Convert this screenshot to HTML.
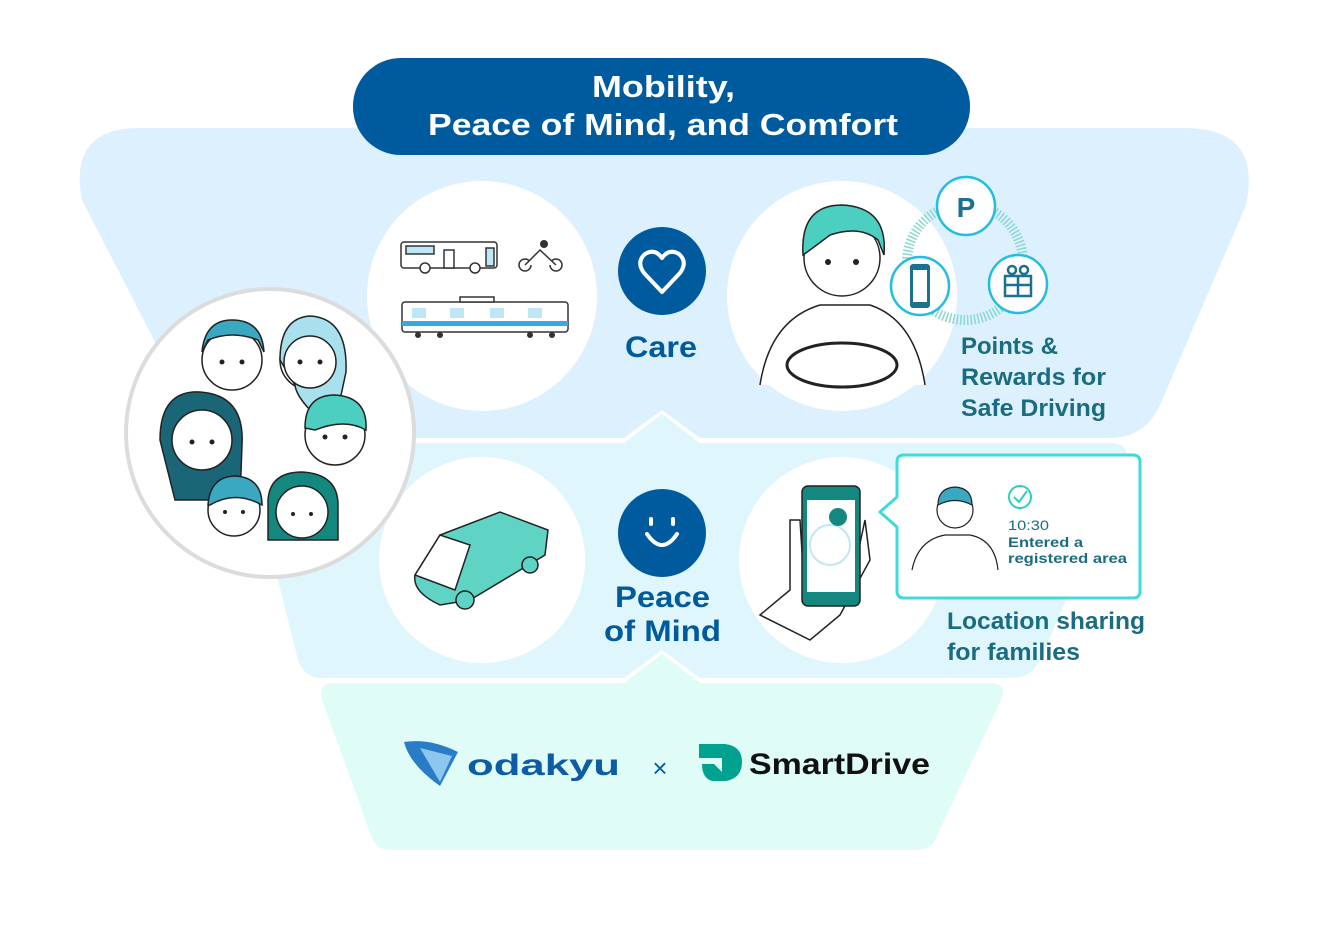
<!DOCTYPE html>
<html><head><meta charset="utf-8"><style>
body{margin:0;background:#fff;width:1326px;height:952px;overflow:hidden}
svg{display:block}
text{font-family:"Liberation Sans",sans-serif}
</style></head><body>
<svg width="1326" height="952" viewBox="0 0 1326 952">
<path d="M140,128 L1185,128 Q1262,128 1246,205 L1160,405 Q1145,438 1110,438 L700,438 L662,410 L624,438 L230,438 Q200,438 190,410 L82,200 Q68,128 140,128 Z" fill="#dcf0fd"/>
<path d="M260,443 L624,443 L662,414 L700,443 L1110,443 Q1132,443 1125,465 L1040,660 Q1032,678 1010,678 L700,678 L662,650 L624,678 L320,678 Q305,678 298,660 L248,460 Q244,443 260,443 Z" fill="#dff6fd"/>
<path d="M335,683 L624,683 L662,654 L700,683 L990,683 Q1008,683 1001,700 L935,840 Q930,850 915,850 L390,850 Q377,850 372,838 L322,700 Q317,683 335,683 Z" fill="#dffcf6"/>
<rect x="353" y="58" width="617" height="97" rx="48" fill="#005a9e"/>
<text x="592" y="97" font-size="31" fill="#fff" font-weight="bold" textLength="143" lengthAdjust="spacingAndGlyphs">Mobility,</text>
<text x="428" y="135" font-size="31" fill="#fff" font-weight="bold" textLength="470" lengthAdjust="spacingAndGlyphs">Peace of Mind, and Comfort</text>
<circle cx="482" cy="296" r="115" fill="#fff"/>
<circle cx="842" cy="296" r="115" fill="#fff"/>
<circle cx="482" cy="560" r="103" fill="#fff"/>
<circle cx="842" cy="560" r="103" fill="#fff"/>
<circle cx="270" cy="433" r="144" fill="#fff" stroke="#dcdcdc" stroke-width="4"/>
<g stroke="#222" stroke-width="1.5">
<circle cx="232" cy="360" r="30" fill="#fff"/><path d="M202,352 Q205,320 232,320 Q262,320 264,352 L258,340 Q232,330 208,340 Z" fill="#3aa8c0"/>
<circle cx="310" cy="360" r="30" fill="#fff"/><path d="M280,360 Q280,318 310,316 Q348,318 346,372 L340,400 L310,410 Q296,395 295,385 Z" fill="#a8e0ee"/><circle cx="310" cy="362" r="26" fill="#fff"/>
<path d="M160,440 Q160,390 200,392 Q245,395 242,445 L240,500 L175,500 Z" fill="#1a6677"/><circle cx="202" cy="440" r="30" fill="#fff"/>
<circle cx="335" cy="435" r="30" fill="#fff"/><path d="M305,428 Q305,395 335,395 Q368,397 366,430 Q345,418 315,430 Z" fill="#4ccfc0"/>
<circle cx="234" cy="510" r="26" fill="#fff"/><path d="M208,505 Q210,476 236,476 Q262,478 262,505 Q235,490 210,505 Z" fill="#3aa8c0"/>
<path d="M268,540 L268,500 Q270,472 302,472 Q338,474 338,505 L338,540 Z" fill="#14887f"/><circle cx="302" cy="512" r="26" fill="#fff"/>
</g>
<g fill="#222"><circle cx="222" cy="362" r="2.5"/><circle cx="242" cy="362" r="2.5"/><circle cx="300" cy="362" r="2.5"/><circle cx="320" cy="362" r="2.5"/><circle cx="192" cy="442" r="2.5"/><circle cx="212" cy="442" r="2.5"/><circle cx="325" cy="437" r="2.5"/><circle cx="345" cy="437" r="2.5"/><circle cx="225" cy="512" r="2"/><circle cx="243" cy="512" r="2"/><circle cx="293" cy="514" r="2"/><circle cx="311" cy="514" r="2"/></g>
<g stroke="#333" stroke-width="1.5" fill="#fff">
<rect x="401" y="242" width="96" height="26" rx="3"/><rect x="406" y="246" width="28" height="8" fill="#bfe6f5"/><rect x="444" y="250" width="10" height="18"/><rect x="486" y="248" width="8" height="18" fill="#bfe6f5"/>
<circle cx="425" cy="268" r="5"/><circle cx="475" cy="268" r="5"/>
<circle cx="525" cy="265" r="6"/><circle cx="556" cy="265" r="6"/><path d="M525,265 L540,250 L556,265"/>
<rect x="402" y="302" width="166" height="30" rx="3"/><rect x="402" y="321" width="166" height="5" fill="#3aa8e0" stroke="none"/><rect x="460" y="297" width="34" height="5"/>
</g>
<g fill="#bfe6f5"><rect x="412" y="308" width="14" height="10"/><rect x="450" y="308" width="14" height="10"/><rect x="490" y="308" width="14" height="10"/><rect x="528" y="308" width="14" height="10"/></g>
<g fill="#333"><circle cx="418" cy="335" r="3"/><circle cx="440" cy="335" r="3"/><circle cx="530" cy="335" r="3"/><circle cx="552" cy="335" r="3"/><circle cx="544" cy="244" r="4"/></g>
<circle cx="662" cy="271" r="44" fill="#005a9e"/>
<path d="M662,292 L644,273 Q636,262 645,254 Q655,248 662,258 Q669,248 679,254 Q688,262 680,273 Z" fill="none" stroke="#fff" stroke-width="4" stroke-linejoin="round"/>
<text x="625" y="357" font-size="30" fill="#005a9e" font-weight="bold" textLength="72" lengthAdjust="spacingAndGlyphs">Care</text>
<g stroke="#222" stroke-width="1.5">
<path d="M760,385 Q770,320 820,305 L870,305 Q915,320 925,385" fill="#fff"/>
<circle cx="842" cy="258" r="38" fill="#fff"/>
<path d="M803,255 Q800,205 842,205 Q888,207 884,255 L878,240 Q860,225 830,235 L810,250 Z" fill="#4ccfc0"/>
<ellipse cx="842" cy="365" rx="55" ry="22" fill="none" stroke-width="3"/>
</g>
<g fill="#222"><circle cx="828" cy="262" r="3"/><circle cx="856" cy="262" r="3"/></g>
<circle cx="965" cy="262" r="58" fill="none" stroke="#8ad8d0" stroke-width="10" stroke-dasharray="1.5 2"/>
<g fill="#fff" stroke="#22bde0" stroke-width="2.5">
<circle cx="966" cy="206" r="29"/><circle cx="920" cy="286" r="29"/><circle cx="1018" cy="284" r="29"/></g>
<text x="966" y="217" font-size="28" fill="#1a7290" text-anchor="middle" font-weight="bold">P</text>
<rect x="910" y="264" width="20" height="44" rx="3" fill="#1a7290"/><rect x="913" y="270" width="14" height="32" fill="#fff"/>
<g fill="none" stroke="#1a7290" stroke-width="2.5"><rect x="1005" y="276" width="26" height="20"/><path d="M1018,276 V296 M1005,285 H1031"/><circle cx="1012" cy="270" r="4"/><circle cx="1024" cy="270" r="4"/></g>
<g font-size="24" fill="#1a6c80" font-weight="bold">
<text x="961" y="354" textLength="97" lengthAdjust="spacingAndGlyphs">Points &amp;</text>
<text x="961" y="385" textLength="145" lengthAdjust="spacingAndGlyphs">Rewards for</text>
<text x="961" y="416" textLength="145" lengthAdjust="spacingAndGlyphs">Safe Driving</text></g>
<g stroke="#222" stroke-width="1.5">
<path d="M415,575 L440,535 L500,512 L548,530 L545,555 L470,600 L440,605 Q412,592 415,575 Z" fill="#5fd3c4"/>
<path d="M415,575 L440,535 L470,545 L455,590 Z" fill="#fff"/>
<circle cx="465" cy="600" r="9" fill="#5fd3c4"/><circle cx="530" cy="565" r="8" fill="#5fd3c4"/>
</g>
<circle cx="662" cy="533" r="44" fill="#005a9e"/>
<path d="M647,534 Q662,556 677,534" fill="none" stroke="#fff" stroke-width="4" stroke-linecap="round"/>
<rect x="649" y="517" width="4" height="9" rx="2" fill="#fff"/><rect x="671" y="517" width="4" height="9" rx="2" fill="#fff"/>
<text x="615" y="607" font-size="30" fill="#005a9e" font-weight="bold" textLength="95" lengthAdjust="spacingAndGlyphs">Peace</text>
<text x="604" y="641" font-size="30" fill="#005a9e" font-weight="bold" textLength="117" lengthAdjust="spacingAndGlyphs">of Mind</text>
<g stroke="#222" stroke-width="1.5">
<path d="M760,615 L790,590 L790,520 L800,520 L805,600 L850,590 L865,520 L870,560 L840,615 L810,640 Z" fill="#fff"/>
<rect x="802" y="486" width="58" height="120" rx="6" fill="#14887f"/>
</g>
<rect x="807" y="500" width="48" height="92" fill="#fff"/>
<circle cx="830" cy="545" r="20" fill="none" stroke="#bfe6f5" stroke-width="2"/>
<circle cx="838" cy="517" r="9" fill="#14887f"/>
<path d="M897,462 Q897,455 904,455 L1133,455 Q1140,455 1140,462 L1140,591 Q1140,598 1133,598 L904,598 Q897,598 897,591 L897,527 L880,512 L897,497 Z" fill="#fff" stroke="#3fdbd8" stroke-width="3"/>
<g stroke="#222" stroke-width="1.2"><path d="M912,570 Q918,540 945,535 L970,535 Q995,540 998,570" fill="#fff"/><circle cx="955" cy="510" r="18" fill="#fff"/><path d="M938,505 Q938,488 955,487 Q972,488 972,505 Q955,496 938,505 Z" fill="#3aa8c0"/></g>
<circle cx="1020" cy="497" r="11" fill="none" stroke="#2ccfc0" stroke-width="2"/><path d="M1014,497 L1019,502 L1027,491" fill="none" stroke="#2ccfc0" stroke-width="2"/>
<g font-size="13.5" fill="#1a6c80">
<text x="1008" y="530" textLength="41" lengthAdjust="spacingAndGlyphs">10:30</text>
<text x="1008" y="547" font-weight="bold" textLength="75" lengthAdjust="spacingAndGlyphs">Entered a</text>
<text x="1008" y="563" font-weight="bold" textLength="119" lengthAdjust="spacingAndGlyphs">registered area</text></g>
<g font-size="24" fill="#1a6c80" font-weight="bold">
<text x="947" y="629" textLength="198" lengthAdjust="spacingAndGlyphs">Location sharing</text>
<text x="947" y="660" textLength="133" lengthAdjust="spacingAndGlyphs">for families</text></g>
<path d="M404,742 Q430,738 458,752 L440,786 Q410,765 404,742 Z" fill="#2a7cc8"/>
<path d="M420,748 L440,782 L452,756 Z" fill="#8cc8ee"/>
<text x="467" y="775" font-size="30" fill="#0d5ca5" font-weight="bold" textLength="153" lengthAdjust="spacingAndGlyphs">odakyu</text>
<text x="660" y="777" font-size="26" fill="#0d5ca5" text-anchor="middle">×</text>
<path d="M699,744 L725,744 Q742,746 742,762 Q742,778 726,781 L712,781 Q702,778 702,764 L714,764 L722,772 L722,758 L699,758 Z" fill="#00a28f"/>
<text x="749" y="774" font-size="30" fill="#111" font-weight="bold" textLength="181" lengthAdjust="spacingAndGlyphs">SmartDrive</text>
</svg>
</body></html>
